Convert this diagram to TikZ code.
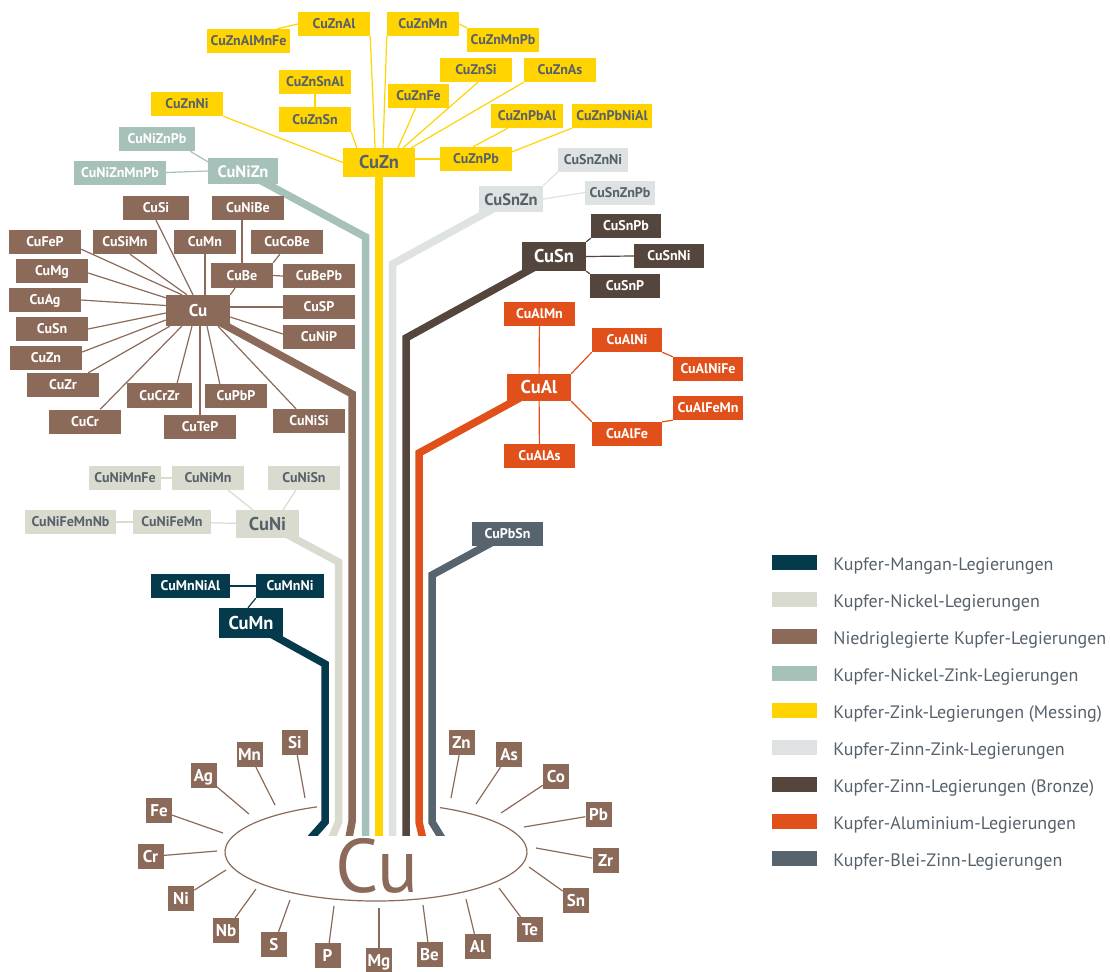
\documentclass[tikz,border=0pt]{standalone}
\usepackage{fontspec}
\setmainfont{PT Sans}
\usetikzlibrary{calc, positioning, backgrounds}

% Farben der Legierungsgruppen
\definecolor{cuyellow}{HTML}{FFD400}
\definecolor{cuteal}{HTML}{A6C1B9}
\definecolor{cunickel}{HTML}{D9DBCE}
\definecolor{cubrown}{HTML}{8B6A5A}
\definecolor{cugray}{HTML}{DEE2E2}
\definecolor{cudark}{HTML}{54463D}
\definecolor{cuorange}{HTML}{E1501A}
\definecolor{cuslate}{HTML}{58646D}
\definecolor{cunavy}{HTML}{053A4C}
\definecolor{cutext}{HTML}{56616B}

\tikzset{
  box/.style={minimum width=72pt, minimum height=24pt, inner sep=0pt,
    text height=9.8pt, text depth=0pt, font=\fontsize{14}{16}\selectfont\bfseries},
  bigbox/.style={box, minimum width=64pt, minimum height=29pt,
    text height=12.9pt, font=\fontsize{18.5}{20}\selectfont\bfseries},
  elbox/.style={box, minimum width=26pt, minimum height=25pt, fill=cubrown, text=white,
    text height=12pt, font=\fontsize{17}{19}\selectfont\bfseries},
  swatch/.style={minimum width=45pt, minimum height=15pt, inner sep=0pt},
  legtext/.style={inner sep=0pt, text=cutext, font=\fontsize{18}{20}\selectfont},
  link/.style={line width=1.2pt},
  trunk/.style={line width=7.5pt},
  znbox/.style={fill=cuyellow, text=cutext},
  nzbox/.style={fill=cuteal, text=white},
  nibox/.style={fill=cunickel, text=cutext},
  lobox/.style={fill=cubrown, text=white},
  szbox/.style={fill=cugray, text=cutext},
  snbox/.style={fill=cudark, text=white},
  albox/.style={fill=cuorange, text=white},
  pbbox/.style={fill=cuslate, text=white},
  mnbox/.style={fill=cunavy, text=white},
}

\begin{document}
\begin{tikzpicture}[x=1pt, y=-1pt]
  \useasboundingbox (0,0) rectangle (1110,971);

  % Kupfer-Zink
  \node[box,znbox] (CuZnAl) at (334,24) {CuZnAl};
  \node[box,znbox,minimum width=83pt] (CuZnAlMnFe) at (248.5,41) {CuZnAlMnFe};
  \node[box,znbox] (CuZnMn) at (423,24) {CuZnMn};
  \node[box,znbox] (CuZnMnPb) at (503,40) {CuZnMnPb};
  \node[box,znbox] (CuZnSnAl) at (315,82) {CuZnSnAl};
  \node[box,znbox] (CuZnSn) at (315,119.5) {CuZnSn};
  \node[box,znbox] (CuZnNi) at (187,104) {CuZnNi};
  \node[box,znbox,minimum width=61pt] (CuZnFe) at (418.5,96) {CuZnFe};
  \node[box,znbox] (CuZnSi) at (476,70) {CuZnSi};
  \node[box,znbox] (CuZnAs) at (560,70) {CuZnAs};
  \node[box,znbox] (CuZnPbAl) at (527,116) {CuZnPbAl};
  \node[box,znbox,minimum width=80pt] (CuZnPbNiAl) at (612,116) {CuZnPbNiAl};
  \node[bigbox,znbox,minimum width=72pt] (CuZn) at (379,162.5) {CuZn};
  \node[box,znbox] (CuZnPb) at (476,159) {CuZnPb};

  % Kupfer-Nickel-Zink
  \node[box,nzbox,minimum width=76pt] (CuNiZnPb) at (157,139) {CuNiZnPb};
  \node[box,nzbox,minimum width=92pt] (CuNiZnMnPb) at (120,172.5) {CuNiZnMnPb};
  \node[bigbox,nzbox,minimum width=70pt,minimum height=26pt,
    font=\fontsize{16.5}{18}\selectfont\bfseries] (CuNiZn) at (243,171) {CuNiZn};

  % Kupfer-Zinn-Zink
  \node[box,szbox,minimum width=70pt] (CuSnZnNi) at (593,159.5) {CuSnZnNi};
  \node[box,szbox,minimum width=70pt] (CuSnZnPb) at (620,192.5) {CuSnZnPb};
  \node[bigbox,szbox,minimum height=26pt,
    font=\fontsize{16.5}{18}\selectfont\bfseries] (CuSnZn) at (511,199) {CuSnZn};

  % Kupfer-Zinn
  \node[box,snbox,minimum width=70pt] (CuSnPb) at (626,226) {CuSnPb};
  \node[box,snbox,minimum width=70pt] (CuSnNi) at (669,256) {CuSnNi};
  \node[box,snbox,minimum width=70pt] (CuSnP) at (625,286) {CuSnP};
  \node[bigbox,snbox] (CuSn) at (554,256.5) {CuSn};

  % Kupfer-Aluminium
  \node[box,albox,minimum width=71pt] (CuAlMn) at (539.5,314) {CuAlMn};
  \node[box,albox,minimum width=70pt] (CuAlNi) at (627,340) {CuAlNi};
  \node[box,albox,minimum width=70pt] (CuAlNiFe) at (708,369) {CuAlNiFe};
  \node[bigbox,albox,minimum height=27pt] (CuAl) at (539,387.5) {CuAl};
  \node[box,albox,minimum width=70pt] (CuAlFeMn) at (708,408) {CuAlFeMn};
  \node[box,albox,minimum width=70pt] (CuAlFe) at (627,434) {CuAlFe};
  \node[box,albox,minimum width=71pt] (CuAlAs) at (539.5,456) {CuAlAs};

  % Kupfer-Blei-Zinn
  \node[box,pbbox,minimum width=71pt] (CuPbSn) at (507.5,534) {CuPbSn};

  % niedriglegiert
  \node[box,lobox,minimum width=66pt] (CuSi) at (156,208) {CuSi};
  \node[box,lobox] (CuNiBe) at (248,208) {CuNiBe};
  \node[box,lobox] (CuFeP) at (45,242) {CuFeP};
  \node[box,lobox,minimum width=64pt] (CuSiMn) at (125,242) {CuSiMn};
  \node[box,lobox,minimum width=62pt] (loCuMn) at (205,242) {CuMn};
  \node[box,lobox] (CuCoBe) at (287,242) {CuCoBe};
  \node[box,lobox] (CuMg) at (52,271) {CuMg};
  \node[box,lobox,minimum width=62pt,minimum height=25pt] (CuBe) at (242,275.5) {CuBe};
  \node[box,lobox] (CuBePb) at (319,276) {CuBePb};
  \node[box,lobox] (CuAg) at (45,300) {CuAg};
  \node[bigbox,lobox,minimum height=31pt,
    font=\fontsize{17}{19}\selectfont\bfseries] (Cu) at (198,310.5) {Cu};
  \node[box,lobox] (CuSP) at (319,307) {CuSP};
  \node[box,lobox] (loCuSn) at (52,329) {CuSn};
  \node[box,lobox] (CuNiP) at (319,337) {CuNiP};
  \node[box,lobox] (loCuZn) at (46,357.5) {CuZn};
  \node[box,lobox] (CuZr) at (63,385) {CuZr};
  \node[box,lobox,minimum width=65pt,minimum height=25pt] (CuCrZr) at (159.5,395.5) {CuCrZr};
  \node[box,lobox,minimum width=62pt] (CuPbP) at (236,396) {CuPbP};
  \node[box,lobox] (CuCr) at (85,421.5) {CuCr};
  \node[box,lobox] (CuTeP) at (200,427) {CuTeP};
  \node[box,lobox] (CuNiSi) at (309,421) {CuNiSi};

  % Kupfer-Nickel
  \node[box,nibox] (CuNiMnFe) at (125,478) {CuNiMnFe};
  \node[box,nibox] (CuNiMn) at (208,478) {CuNiMn};
  \node[box,nibox] (CuNiSn) at (304,478) {CuNiSn};
  \node[box,nibox,minimum width=91pt] (CuNiFeMnNb) at (70.5,522) {CuNiFeMnNb};
  \node[box,nibox,minimum width=78pt] (CuNiFeMn) at (172,522) {CuNiFeMn};
  \node[bigbox,nibox,minimum width=63pt,minimum height=28pt] (CuNi) at (267.5,524) {CuNi};

  % Kupfer-Mangan
  \node[box,mnbox,minimum width=79pt] (CuMnNiAl) at (190.5,586) {CuMnNiAl};
  \node[box,mnbox,minimum width=68pt] (CuMnNi) at (290,586) {CuMnNi};
  \node[bigbox,mnbox,minimum height=30pt] (CuMn) at (251,623) {CuMn};

  % Verbindungen
  \draw[link,cuyellow] ($(CuZnAlMnFe.north east)+(-13,0)$) -- (CuZnAl.west);
  \draw[link,cuyellow] (CuZnAl.south east) -- ($(CuZn.north)+(-4,0)$);
  \draw[link,cuyellow] (CuZnMn.south west) -- ($(CuZn.north)+(4,0)$);
  \draw[link,cuyellow] (CuZnMn.east) -- (CuZnMnPb.north west);
  \draw[link,cuyellow] (CuZnSnAl) -- (CuZnSn);
  \draw[link,cuyellow] (CuZnSn.south east) -- ($(CuZn.north west)+(14,0)$);
  \draw[link,cuyellow] (CuZnNi.south east) -- (CuZn.west);
  \draw[link,cuyellow] ($(CuZnFe.south)+(-3,0)$) -- ($(CuZn.north)+(19,0)$);
  \draw[link,cuyellow] ($(CuZnSi.south)+(2,0)$) -- ($(CuZn.north)+(24,0)$);
  \draw[link,cuyellow] (CuZnAs.south west) -- ($(CuZn.north east)+(-4,0)$);
  \draw[link,cuyellow] (CuZnPb.west) -- (CuZnPb.west -| CuZn.east);
  \draw[link,cuyellow] ($(CuZnPbAl.south west)+(17,0)$) -- ($(CuZnPb.north)+(-3,0)$);
  \draw[link,cuyellow] (CuZnPbNiAl.south west) -- ($(CuZnPb.north east)+(0,5)$);

  \draw[link,cuteal] ($(CuNiZnPb.south east)+(-5,0)$) -- ($(CuNiZn.north west)+(0,4)$);
  \draw[link,cuteal] (CuNiZnMnPb.east) -- (CuNiZn.west);

  \draw[link,cugray] (CuSnZn.north east) -- (CuSnZnNi.south west);
  \draw[link,cugray] (CuSnZn.east) -- (CuSnZnPb.west);

  \draw[link,cudark] (CuSn.north east) -- (CuSnPb.south west);
  \draw[link,cudark] (CuSn.east) -- (CuSnNi.west);
  \draw[link,cudark] (CuSn.south east) -- (CuSnP.north west);

  \draw[link,cuorange] (CuAlMn) -- (CuAl);
  \draw[link,cuorange] (CuAl) -- (CuAlAs);
  \draw[link,cuorange] (CuAl.north east) -- (CuAlNi.south west);
  \draw[link,cuorange] (CuAlNi.south east) -- (CuAlNiFe.north west);
  \draw[link,cuorange] (CuAl.south east) -- (CuAlFe.north west);
  \draw[link,cuorange] (CuAlFe.north east) -- (CuAlFeMn.south west);

  \draw[link,cubrown] (CuSi.south) -- ($(Cu.north)+(-5,0)$);
  \draw[link,cubrown] ($(CuFeP.south east)+(0,-5)$) -- ($(Cu.north)+(-16,0)$);
  \draw[link,cubrown] ($(CuSiMn.south)+(5,0)$) -- ($(Cu.north)+(-11,0)$);
  \draw[link,cubrown] (loCuMn) -- (loCuMn |- Cu.north);
  \draw[link,cubrown] (CuBe.north) -- (CuBe.north |- CuNiBe.south);
  \draw[link,cubrown] ($(CuCoBe.south west)+(29,0)$) -- (CuBe.north east);
  \draw[link,cubrown] (CuBe.east) -- (CuBePb.west);
  \draw[link,cubrown] ($(CuBe.south)+(-7,0)$) -- (Cu.north east);
  \draw[link,cubrown] ($(CuMg.east)+(0,2)$) -- ($(Cu.north west)+(0,3)$);
  \draw[link,cubrown] (CuAg.east) -- ($(Cu.west)+(0,-5)$);
  \draw[link,cubrown] (CuSP.west) -- (CuSP.west -| Cu.east);
  \draw[link,cubrown] (loCuSn.east) -- ($(Cu.west)+(0,2.5)$);
  \draw[link,cubrown] ($(CuNiP.west)+(0,-3)$) -- ($(Cu.east)+(0,6.5)$);
  \draw[link,cubrown] ($(loCuZn.east)+(0,-5.5)$) -- ($(Cu.west)+(0,9.5)$);
  \draw[link,cubrown] ($(CuZr.north east)+(-11,0)$) -- ($(Cu.south west)+(4,0)$);
  \draw[link,cubrown] ($(CuCr.north east)+(-21,0)$) -- ($(Cu.south west)+(16,0)$);
  \draw[link,cubrown] ($(CuCrZr.north east)+(-15,0)$) -- ($(Cu.south)+(-6,0)$);
  \draw[link,cubrown] (CuTeP) -- (CuTeP |- Cu.south);
  \draw[link,cubrown] ($(CuPbP.north west)+(15,0)$) -- ($(Cu.south)+(9,0)$);
  \draw[link,cubrown] ($(CuNiSi.north)+(-13,0)$) -- ($(Cu.south)+(20,0)$);

  \draw[link,cunickel] (CuNiMnFe) -- (CuNiMn);
  \draw[link,cunickel] ($(CuNiMn.south east)+(-16,0)$) -- ($(CuNi.north west)+(17,0)$);
  \draw[link,cunickel] ($(CuNiSn.south west)+(28,0)$) -- ($(CuNi.north east)+(-16,0)$);
  \draw[link,cunickel] (CuNiFeMnNb) -- (CuNiFeMn);
  \draw[link,cunickel] (CuNiFeMn) -- (CuNi);

  \draw[link,cunavy] (CuMnNiAl) -- (CuMnNi);
  \draw[link,cunavy] (CuMnNi.south west) -- ($(CuMn.north)+(-3,0)$);

  % Cu-Kern mit Legierungselementen
  \draw[cubrown, line width=1.2pt] ($(376,852)+(-65:151 and 49)$)
    arc[start angle=-65, end angle=247, x radius=151, y radius=49];
  \node[inner sep=0pt, text=cubrown, font=\fontsize{76}{76}\selectfont] (cuBig) at (377,866) {Cu};

  \foreach \el/\x/\y/\ex/\ey in {Si/295/742.5/305/798, Mn/249.5/754.5/275/805,
      Ag/203.5/775.5/249/814, Fe/159/810.5/223/833, Cr/150.5/856.5/217/851,
      Ni/181/898.5/226/870, Nb/226/930.5/256/889, S/274/944.5/290/900,
      P/327.5/955.5/334/906, Mg/379/960.5/379/908, Be/429.5/954.5/423/905,
      Al/477.5/946.5/466/899, Te/530/929.5/499/888, Sn/576/900.5/529/867,
      Zr/605.5/860.5/536/848, Pb/598.5/814.5/524/827, Co/556/776.5/501/813,
      As/509/754.5/476/804, Zn/461.5/742.5/451/798}
  {
    \node[elbox] (el\el) at (\x,\y) {\el};
    \coordinate (tip\el) at (\ex,\ey);
    \draw[link,cubrown] (el\el) -- (tip\el);
  }

  % Legende
  \foreach \col/\txt [count=\i] in {cunavy/Kupfer-Mangan-Legierungen,
      cunickel/Kupfer-Nickel-Legierungen, cubrown/Niedriglegierte Kupfer-Legierungen,
      cuteal/Kupfer-Nickel-Zink-Legierungen, cuyellow/Kupfer-Zink-Legierungen (Messing),
      cugray/Kupfer-Zinn-Zink-Legierungen, cudark/Kupfer-Zinn-Legierungen (Bronze),
      cuorange/Kupfer-Aluminium-Legierungen, cuslate/Kupfer-Blei-Zinn-Legierungen}
  {
    \node[swatch, fill=\col] (sw\i) at (794.5, 525.5+37*\i) {};
    \node[legtext, right=16pt of sw\i.south east, anchor=base west] (leg\i) {\txt};
  }

  % Stränge zum Kupfer
  \begin{scope}[on background layer]
    \fill[white] (0,0) rectangle (1110,971);
    \clip (0,0) rectangle (1110,835);
    \foreach \src/\col/\x/\y/\dx in {CuMn/cunavy/325/664/-23, CuNi/cunickel/338.5/562/-11,
        Cu/cubrown/352/394/-5, CuNiZn/cuteal/365.5/237/0, CuZn/cuyellow/379/175/0,
        CuSnZn/cugray/392.5/264/0, CuSn/cudark/406/338/0, CuAl/cuorange/419/453/6,
        CuPbSn/cuslate/432/575/16}
      \draw[trunk,\col] (\src.center) -- (\x,\y) -- (\x,822) -- ++(\dx,26);
  \end{scope}
\end{tikzpicture}
\end{document}
